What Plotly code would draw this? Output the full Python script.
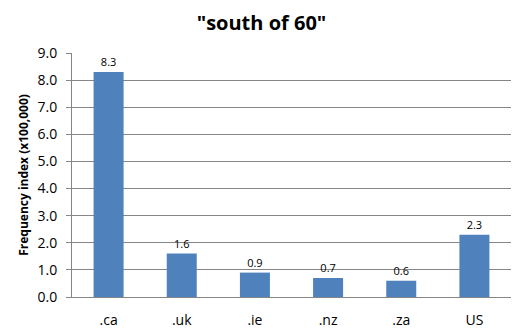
import plotly.graph_objects as go

categories = [".ca", ".uk", ".ie", ".nz", ".za", "US"]
values = [8.3, 1.6, 0.9, 0.7, 0.6, 2.3]
labels = ["8.3", "1.6", "0.9", "0.7", "0.6", "2.3"]
yticks = [0, 1, 2, 3, 4, 5, 6, 7, 8, 9]
yticklabels = ["0.0", "1.0", "2.0", "3.0", "4.0", "5.0", "6.0", "7.0", "8.0", "9.0"]

fig = go.Figure(go.Bar(
    x=categories, y=values, text=labels, textposition="outside",
    textfont=dict(size=11, color="#000000"),
    marker=dict(color="#4F81BD", line=dict(width=0)),
    cliponaxis=False,
))

fig.update_layout(
    width=523, height=335,
    margin=dict(l=72, r=12, t=53, b=38),
    paper_bgcolor="white", plot_bgcolor="white",
    font=dict(family="Open Sans, Liberation Sans, sans-serif", color="#000000"),
    title=dict(text='<b>"south of 60"</b>', x=0.5, xanchor="center", y=0.93, yanchor="middle",
               font=dict(size=20, color="#000000")),
    bargap=0.59,
    showlegend=False,
)
fig.update_yaxes(
    range=[0, 9], tickvals=yticks, ticktext=yticklabels,
    showgrid=True, gridcolor="#868686", gridwidth=1,
    showline=True, linecolor="#868686", linewidth=1,
    ticks="outside", ticklen=5, tickcolor="#868686",
    ticklabelstandoff=6, automargin=False,
    tickfont=dict(size=14),
    title=dict(text="<b>Frequency index (x100,000)</b>", font=dict(size=12), standoff=6),
    zeroline=False,
)
fig.update_xaxes(
    showline=True, linecolor="#868686", linewidth=1,
    ticks="", tickfont=dict(size=14), ticklabelstandoff=10, automargin=False,
)

fig.write_html("out.html")
